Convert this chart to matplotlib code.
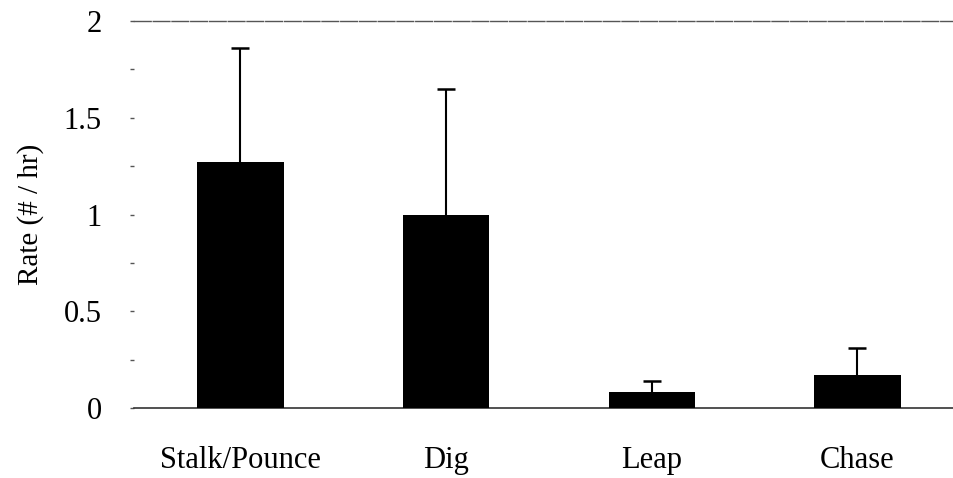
import matplotlib.pyplot as plt
import numpy as np

categories = ['Stalk/Pounce', 'Dig', 'Leap', 'Chase']
rates = [1.27, 1.00, 0.085, 0.17]
errors = [0.59, 0.65, 0.055, 0.14]
yticks = [0, 0.5, 1, 1.5, 2]
ytick_labels = ['0', '0.5', '1', '1.5', '2']

plt.rcParams['font.family'] = ['Liberation Serif', 'DejaVu Serif']

fig = plt.figure(figsize=(9.54, 4.78), dpi=100)
ax = fig.add_axes([0.140, 0.146, 0.86, 0.81])

x = np.arange(len(categories))
ax.bar(x, rates, width=0.42, color='black', zorder=3)
_, caps, _ = ax.errorbar(x, rates, yerr=[np.zeros(len(errors)), errors], fmt='none',
                         ecolor='black', elinewidth=1.5, capsize=6.5, capthick=1.8,
                         zorder=2)
# only the upper cap, like the original
for cap in caps:
    if np.allclose(cap.get_ydata(), rates):
        cap.set_visible(False)

ax.set_xlim(-0.52, 3.47)
ax.set_ylim(0, 2)
ax.set_yticks(yticks)
ax.set_yticklabels(ytick_labels)
ax.set_yticks(np.arange(0, 2.01, 0.25), minor=True)
ax.set_xticks(x)
ax.set_xticklabels(categories)

ax.tick_params(axis='y', which='both', length=3, width=1, color='#555555',
               labelsize=22, pad=20)
ax.tick_params(axis='x', length=0, labelsize=22, pad=27)

for side in ['left', 'right']:
    ax.spines[side].set_visible(False)
ax.spines['bottom'].set_color('#333333')
ax.spines['bottom'].set_linewidth(1.2)
ax.spines['top'].set_color('#555555')
ax.spines['top'].set_linewidth(1.0)
ax.spines['top'].set_linestyle((0, (12, 1.5)))

ax.set_ylabel('Rate (# / hr)', fontsize=21, labelpad=14)

fig.savefig('out.png', dpi=100)
